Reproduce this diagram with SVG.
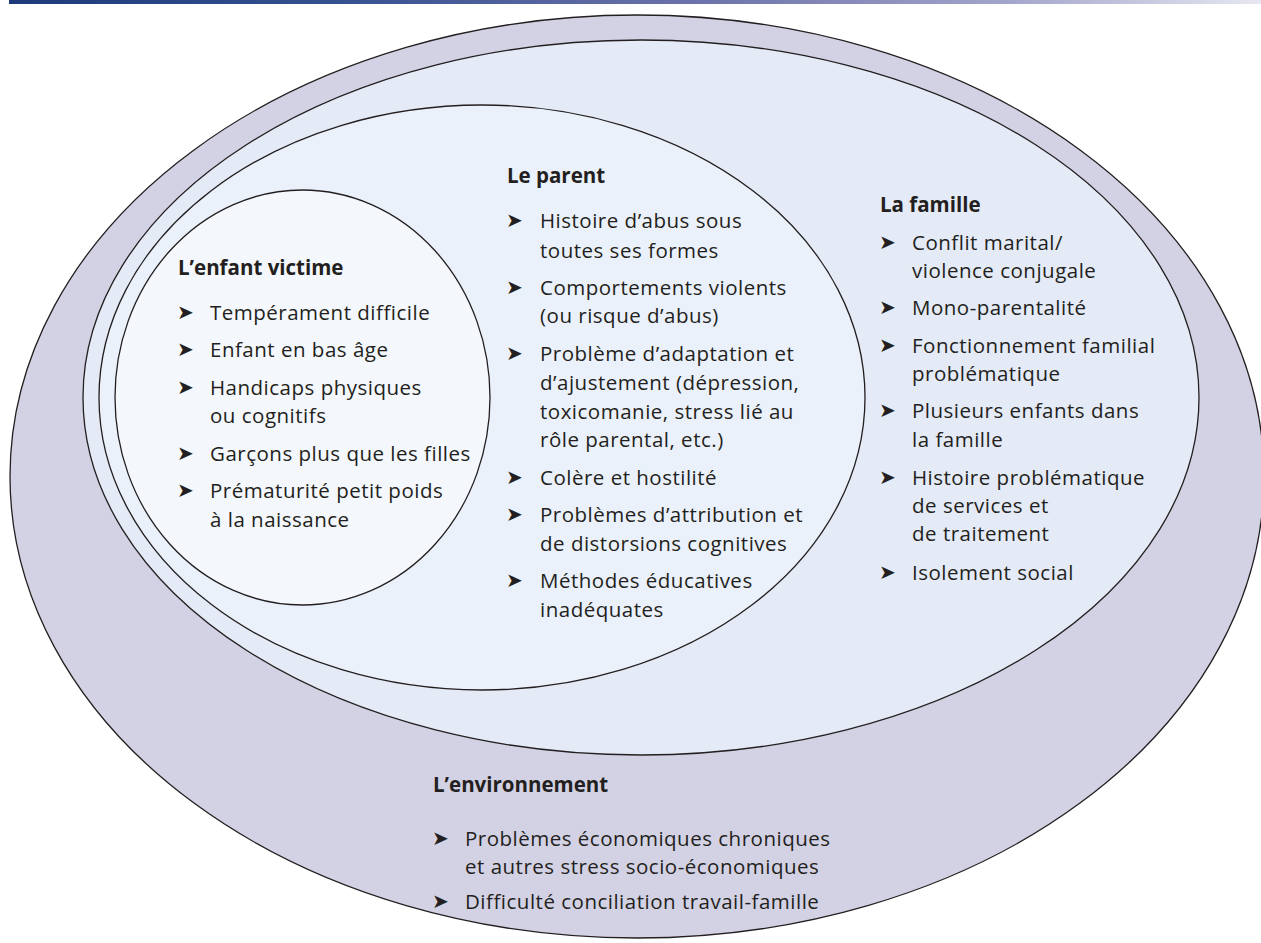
<svg xmlns="http://www.w3.org/2000/svg" width="1261" height="943" viewBox="0 0 1261 943">
<defs>
<linearGradient id="bar" x1="0" y1="0" x2="1" y2="0">
<stop offset="0" stop-color="#1d3a7a"/>
<stop offset="0.25" stop-color="#34508f"/>
<stop offset="0.55" stop-color="#6c72aa"/>
<stop offset="0.8" stop-color="#a3a6cb"/>
<stop offset="1" stop-color="#e6e7f1"/>
</linearGradient>
<style>
.ring{stroke:#231f20;stroke-width:1.3}
.t{font-family:"Open Sans","Noto Sans",sans-serif;font-size:20.5px;letter-spacing:0.5px;fill:#231f20}
.h{font-family:"Open Sans","Noto Sans",sans-serif;font-size:20.5px;font-weight:bold;fill:#231f20}
.a{font-family:"DejaVu Sans",sans-serif;font-size:20px;fill:#231f20}
</style>
</defs>
<rect x="9" y="0" width="1252" height="4" fill="url(#bar)"/>
<g id="environnement">
<ellipse class="ring" cx="637" cy="476.5" rx="627" ry="461.5" fill="#d3d2e4"/>
</g>
<g id="famille">
<ellipse class="ring" cx="641" cy="397.5" rx="558" ry="357.5" fill="#e4eaf6"/>
</g>
<g id="parent">
<ellipse class="ring" cx="482" cy="397.5" rx="383" ry="292.5" fill="#ebf1fa"/>
</g>
<g id="enfant">
<ellipse class="ring" cx="302.5" cy="397.5" rx="187.5" ry="207.5" fill="#f4f7fb"/>
</g>
<g id="connectors"/>
<g id="enfant-text">
<text class="h" x="178" y="275">L’enfant victime</text>
<text class="a" x="177" y="319">➤</text><text class="t" x="210" y="320">Tempérament difficile</text>
<text class="a" x="177" y="356">➤</text><text class="t" x="210" y="357">Enfant en bas âge</text>
<text class="a" x="177" y="394">➤</text><text class="t" x="210" y="395">Handicaps physiques</text>
<text class="t" x="210" y="423">ou cognitifs</text>
<text class="a" x="177" y="460">➤</text><text class="t" x="210" y="461">Garçons plus que les filles</text>
<text class="a" x="177" y="497">➤</text><text class="t" x="210" y="498">Prématurité petit poids</text>
<text class="t" x="210" y="527">à la naissance</text>
</g>
<g id="parent-text">
<text class="h" x="507" y="183">Le parent</text>
<text class="a" x="506" y="227">➤</text><text class="t" x="540" y="228">Histoire d’abus sous</text>
<text class="t" x="540" y="258">toutes ses formes</text>
<text class="a" x="506" y="294">➤</text><text class="t" x="540" y="295">Comportements violents</text>
<text class="t" x="540" y="323">(ou risque d’abus)</text>
<text class="a" x="506" y="360">➤</text><text class="t" x="540" y="361">Problème d’adaptation et</text>
<text class="t" x="540" y="390">d’ajustement (dépression,</text>
<text class="t" x="540" y="419">toxicomanie, stress lié au</text>
<text class="t" x="540" y="447">rôle parental, etc.)</text>
<text class="a" x="506" y="484">➤</text><text class="t" x="540" y="485">Colère et hostilité</text>
<text class="a" x="506" y="521">➤</text><text class="t" x="540" y="522">Problèmes d’attribution et</text>
<text class="t" x="540" y="551">de distorsions cognitives</text>
<text class="a" x="506" y="587">➤</text><text class="t" x="540" y="588">Méthodes éducatives</text>
<text class="t" x="540" y="617">inadéquates</text>
</g>
<g id="famille-text">
<text class="h" x="880" y="212">La famille</text>
<text class="a" x="879" y="249">➤</text><text class="t" x="912" y="250">Conflit marital/</text>
<text class="t" x="912" y="278">violence conjugale</text>
<text class="a" x="879" y="314">➤</text><text class="t" x="912" y="315">Mono-parentalité</text>
<text class="a" x="879" y="352">➤</text><text class="t" x="912" y="353">Fonctionnement familial</text>
<text class="t" x="912" y="381">problématique</text>
<text class="a" x="879" y="417">➤</text><text class="t" x="912" y="418">Plusieurs enfants dans</text>
<text class="t" x="912" y="447">la famille</text>
<text class="a" x="879" y="484">➤</text><text class="t" x="912" y="485">Histoire problématique</text>
<text class="t" x="912" y="513">de services et</text>
<text class="t" x="912" y="541">de traitement</text>
<text class="a" x="879" y="579">➤</text><text class="t" x="912" y="580">Isolement social</text>
</g>
<g id="environnement-text">
<text class="h" x="433" y="792">L’environnement</text>
<text class="a" x="432" y="845">➤</text><text class="t" x="465" y="846">Problèmes économiques chroniques</text>
<text class="t" x="465" y="874">et autres stress socio-économiques</text>
<text class="a" x="432" y="908">➤</text><text class="t" x="465" y="909">Difficulté conciliation travail-famille</text>
</g>
</svg>
